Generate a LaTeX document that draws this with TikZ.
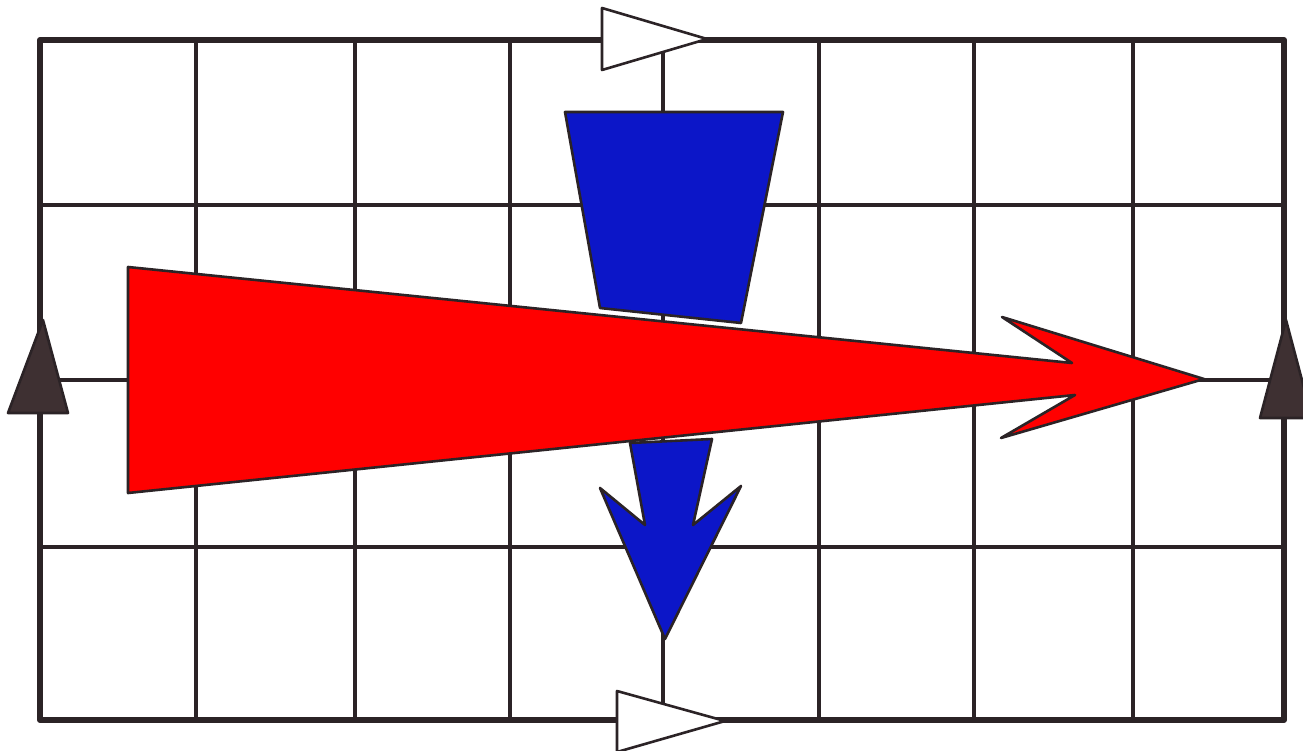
\documentclass[tikz,border=0pt]{standalone}
\usepackage{tikz}
\definecolor{ink}{RGB}{43,35,38}
\definecolor{markerblue}{RGB}{12,22,200}
\definecolor{markerred}{RGB}{255,0,0}
\definecolor{darkfill}{RGB}{62,48,50}
\tikzset{
  gridline/.style={draw=ink, line width=3.4pt},
  borderline/.style={draw=ink, line width=6pt, line join=round},
  outline/.style={draw=ink, line width=2.6pt, line join=round},
  whitetri/.style={outline, fill=white},
  darktri/.style={outline, fill=darkfill},
  bluefill/.style={outline, fill=markerblue},
  redfill/.style={outline, fill=markerred}
}
\begin{document}
\begin{tikzpicture}[x=1pt,y={(0pt,-1pt)}]
\useasboundingbox (0,0) rectangle (1303,751);
\clip (0,0) rectangle (1303,751);
\fill[white] (0,0) rectangle (1303,751);
% grid
\foreach \gx in {196,355,510,663,819,974,1133}
  \draw[gridline] (\gx,40) -- (\gx,720);
\foreach \gy in {205,380,547}
  \draw[gridline] (40,\gy) -- (1284,\gy);
\draw[borderline] (40,40) rectangle (1284,720);
% edge markers
\draw[whitetri] (602,8) -- (707,39) -- (602,70) -- cycle;
\draw[whitetri] (617,691) -- (725,721) -- (617,752) -- cycle;
\draw[darktri] (43,320) -- (68,413) -- (8,413) -- cycle;
\draw[darktri] (1286,320) -- (1312,418) -- (1260,418) -- cycle;
% blue trapezoid and arrow
\draw[bluefill] (565,112) -- (783,112) -- (741,323) -- (600,308) -- cycle;
\draw[bluefill] (630,443) -- (712,439) -- (693,525) -- (741,486)
  -- (665,639) -- (600,488) -- (645,525) -- cycle;
% red arrow
\draw[redfill] (128,267) -- (1072,363) -- (1002,317) -- (1204,379)
  -- (1001,438) -- (1075,395) -- (128,493) -- cycle;
\end{tikzpicture}
\end{document}
